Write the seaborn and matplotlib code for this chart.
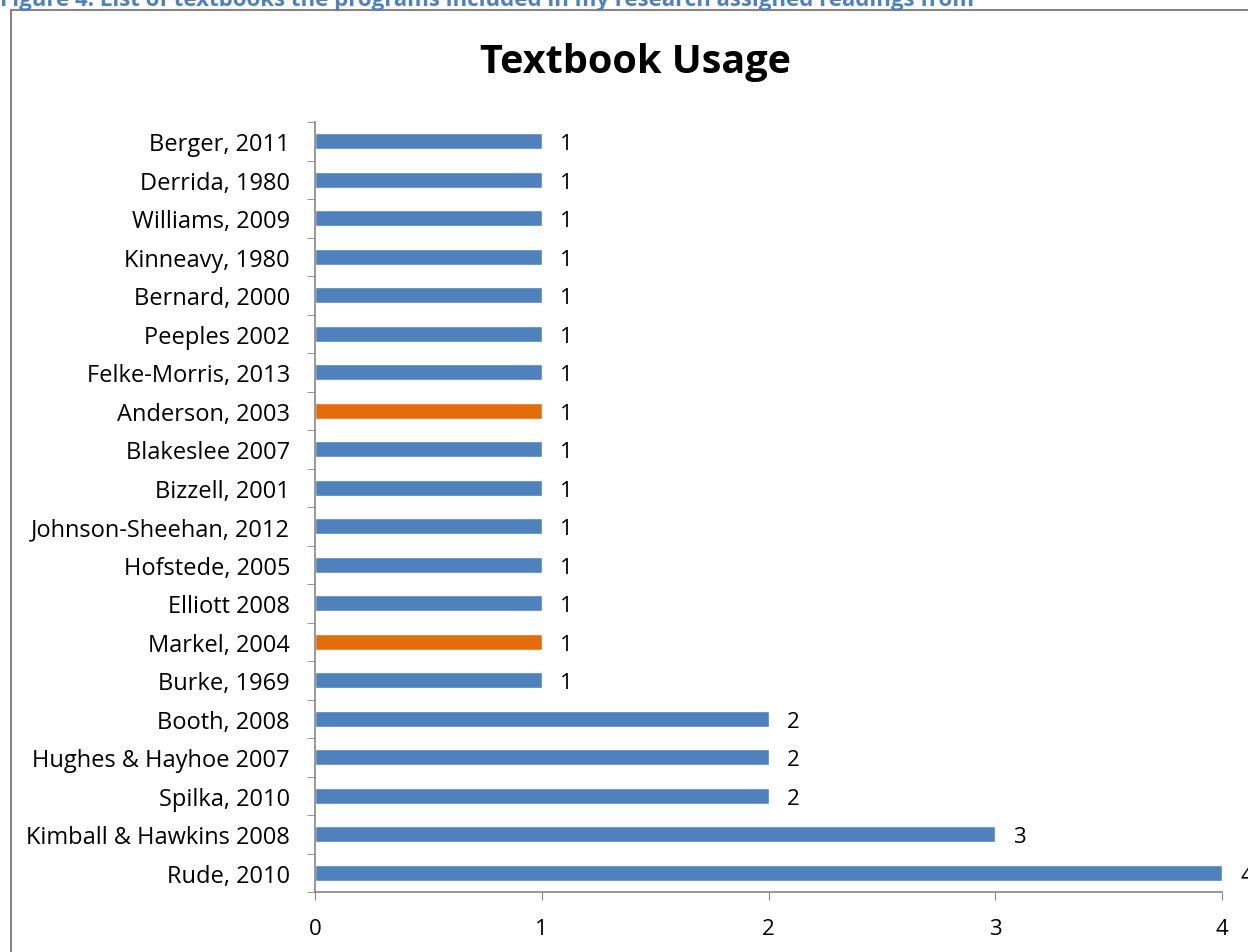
import matplotlib
matplotlib.use('Agg')
import matplotlib.pyplot as plt
import matplotlib.patches as patches
import seaborn as sns
import pandas as pd
import numpy as np

# data, top to bottom
books = ['Berger, 2011', 'Derrida, 1980', 'Williams, 2009', 'Kinneavy, 1980',
         'Bernard, 2000', 'Peeples 2002', 'Felke-Morris, 2013', 'Anderson, 2003',
         'Blakeslee 2007', 'Bizzell, 2001', 'Johnson-Sheehan, 2012', 'Hofstede, 2005',
         'Elliott 2008', 'Markel, 2004', 'Burke, 1969', 'Booth, 2008',
         'Hughes & Hayhoe 2007', 'Spilka, 2010', 'Kimball & Hawkins 2008', 'Rude, 2010']
counts = [1, 1, 1, 1, 1, 1, 1, 1, 1, 1, 1, 1, 1, 1, 1, 2, 2, 2, 3, 4]
highlight = ['Anderson, 2003', 'Markel, 2004']

df = pd.DataFrame({'book': books, 'count': counts})
df['grp'] = np.where(df['book'].isin(highlight), 'hl', 'base')

sns.set_style('white')
plt.rcParams['font.family'] = ['Open Sans', 'DejaVu Sans']
plt.rcParams['text.color'] = 'black'
plt.rcParams['xtick.color'] = 'black'
plt.rcParams['ytick.color'] = 'black'

fig = plt.figure(figsize=(12.48, 9.53), dpi=100)
ax = fig.add_axes([315 / 1248, 1 - 893 / 953, (1222 - 315) / 1248, (893 - 123) / 953])

sns.barplot(data=df, y='book', x='count', hue='grp', dodge=False, legend=False,
            palette={'base': '#4F81BD', 'hl': '#E46C0A'}, width=0.42,
            saturation=1, ax=ax)

# value labels just right of each bar
for c in ax.containers:
    labels = [f'{int(v)}' if v > 0 else '' for v in c.datavalues]
    txts = ax.bar_label(c, labels=labels, padding=13, fontsize=16, color='black',
                        clip_on=False)
    for t in txts:
        t.set_va('center_baseline')

ax.set_xlim(0, 4)
ax.set_ylim(len(books) - 0.5, -0.5)
ax.set_xticks([0, 1, 2, 3, 4])
ax.set_xlabel('')
ax.set_ylabel('')
ax.tick_params(axis='x', labelsize=16, length=6, color='#868686', direction='out',
               bottom=True, pad=13)
ax.tick_params(axis='y', which='major', labelsize=17, length=0, pad=18)
ax.set_yticks(np.arange(-0.5, len(books)), minor=True)
ax.tick_params(axis='y', which='minor', length=6, color='#868686', direction='out', left=True)

for s in ['top', 'right']:
    ax.spines[s].set_visible(False)
for s in ['left', 'bottom']:
    ax.spines[s].set_color('#868686')
    ax.spines[s].set_linewidth(1.2)

fig.text(635 / 1248, 1 - 62 / 953, 'Textbook Usage', ha='center', va='center',
         fontsize=28.5, fontweight='bold', color='black')

# chart frame, running off the page on right and bottom
frame = patches.Rectangle((11 / 1248, -0.05), 1.1, 1 - 11 / 953 + 0.05,
                          transform=fig.transFigure, fill=False,
                          edgecolor='#868686', linewidth=1.5)
fig.patches.append(frame)

# caption clipped at the top of the page
fig.text(0.0, 1 - 6 / 953, 'Figure 4. List of textbooks the programs included in my research assigned readings from',
         ha='left', va='baseline', fontsize=16, fontweight='bold', color='#4F81BD')

fig.savefig('out.png', dpi=100)
